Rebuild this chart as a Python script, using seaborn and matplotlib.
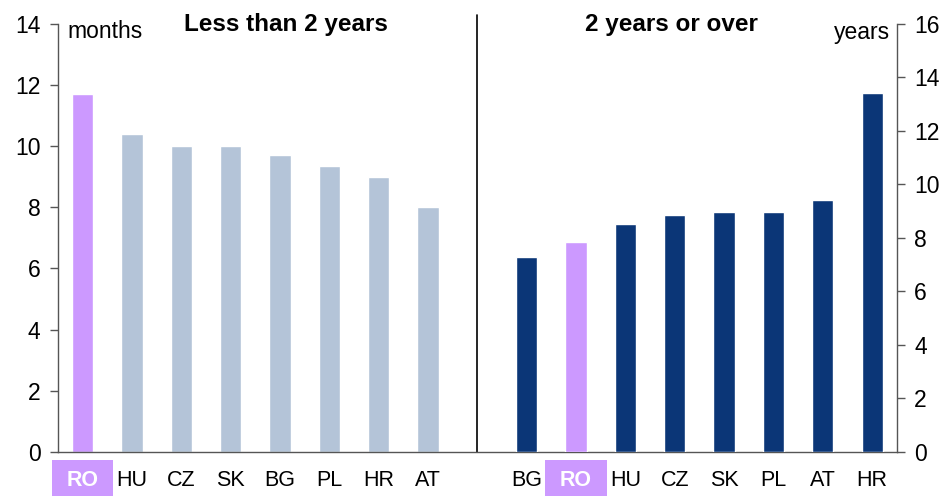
import matplotlib
matplotlib.use("Agg")
import matplotlib.pyplot as plt
import matplotlib.transforms as mtransforms
from matplotlib.patches import Rectangle
import numpy as np
import pandas as pd
import seaborn as sns

# Less than 2 years (left axis, months)
short_countries = ["RO", "HU", "CZ", "SK", "BG", "PL", "HR", "AT"]
short_months = [11.7, 10.4, 10.0, 10.0, 9.7, 9.35, 9.0, 8.0]

# 2 years or over (right axis, years)
long_countries = ["BG", "RO", "HU", "CZ", "SK", "PL", "AT", "HR"]
long_years = [7.3, 7.85, 8.5, 8.85, 8.95, 8.95, 9.4, 13.4]

PURPLE = "#CC99FF"
LIGHT = "#B4C4D8"
NAVY = "#0B3677"
SPINE = "#555555"

sns.set_theme(style="white")
plt.rcParams["font.family"] = ["Liberation Sans", "DejaVu Sans"]
plt.rcParams["text.color"] = "black"
plt.rcParams["xtick.labelcolor"] = "black"
plt.rcParams["ytick.labelcolor"] = "black"

short_df = pd.DataFrame({
    "pos": np.arange(len(short_countries)),
    "country": short_countries,
    "value": short_months,
})
short_df["kind"] = np.where(short_df["country"] == "RO", "ro", "other")

long_df = pd.DataFrame({
    "pos": np.arange(len(long_countries)) + len(short_countries) + 1,
    "country": long_countries,
    "value": long_years,
})
long_df["kind"] = np.where(long_df["country"] == "RO", "ro", "other")

fig = plt.figure(figsize=(9.5, 4.96), dpi=100)
ax = fig.add_axes([0.061, 0.089, 0.883, 0.863])
ax2 = ax.twinx()

sns.barplot(data=short_df, x="pos", y="value", hue="kind", native_scale=True,
            palette={"ro": PURPLE, "other": LIGHT}, dodge=False, width=0.43,
            legend=False, ax=ax, saturation=1)
sns.barplot(data=long_df, x="pos", y="value", hue="kind", native_scale=True,
            palette={"ro": PURPLE, "other": NAVY}, dodge=False, width=0.43,
            legend=False, ax=ax2, saturation=1)

n_slots = len(short_countries) + 1 + len(long_countries)
ax.set_xlim(-0.5, n_slots - 0.5)
ax2.set_xlim(-0.5, n_slots - 0.5)
ax.set_ylim(0, 14)
ax2.set_ylim(0, 16)
ax.set_yticks(np.arange(0, 15, 2))
ax2.set_yticks(np.arange(0, 17, 2))
ax.set_xlabel("")
ax.set_ylabel("")
ax2.set_ylabel("")

all_pos = list(short_df["pos"]) + list(long_df["pos"])
all_labels = short_countries + long_countries
ax.set_xticks(all_pos)
ax.set_xticklabels(all_labels)
bounds = list(np.arange(len(short_countries) + 1) - 0.5) + \
    list(long_df["pos"].to_numpy() - 0.5) + [long_df["pos"].iloc[-1] + 0.5]
ax.set_xticks(bounds, minor=True)
ax.tick_params(axis="x", which="major", length=0, pad=13, labelsize=15.5, labelcolor="black")
ax.tick_params(axis="x", which="minor", length=5.5, width=1, color=SPINE, direction="out")
ax.tick_params(axis="y", length=5.5, width=1, color=SPINE, pad=7, labelsize=16.5,
               direction="out", left=True, labelcolor="black")
ax2.tick_params(axis="y", length=5.5, width=1, color=SPINE, pad=7, labelsize=16.5,
                direction="out", right=True, labelcolor="black")

for a in (ax, ax2):
    a.spines["top"].set_visible(False)
    for s in ("left", "right", "bottom"):
        a.spines[s].set_color(SPINE)
        a.spines[s].set_linewidth(1)
ax.spines["right"].set_visible(False)
ax2.spines["left"].set_visible(False)
ax2.spines["bottom"].set_visible(False)

# highlight RO labels
trans = mtransforms.blended_transform_factory(ax.transData, ax.transAxes)
for pos, lab, tl in zip(all_pos, all_labels, ax.get_xticklabels()):
    if lab == "RO":
        tl.set_color("white")
        tl.set_fontweight("bold")
        ax.add_patch(Rectangle((pos - 0.62, -0.11), 1.24, 0.092, transform=trans,
                               facecolor=PURPLE, edgecolor="none", clip_on=False, zorder=0.2))

# divider
ax.axvline(len(short_countries), ymin=0, ymax=1.02, color="black", lw=1.2, clip_on=False)

ax.text(0.011, 0.981, "months", transform=ax.transAxes, ha="left", va="center", fontsize=16.5)
ax.text(0.992, 0.979, "years", transform=ax.transAxes, ha="right", va="center", fontsize=16.5)
ax.text(4.12, 0.998, "Less than 2 years", transform=trans, ha="center", va="center",
        fontsize=17.5, fontweight="bold")
ax.text(11.94, 0.998, "2 years or over", transform=trans, ha="center", va="center",
        fontsize=17.5, fontweight="bold")

fig.savefig("out.png", dpi=100)
